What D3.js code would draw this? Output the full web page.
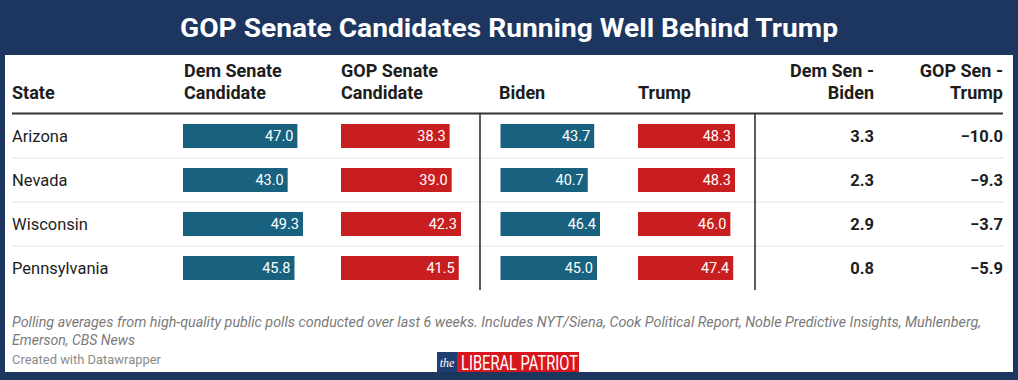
<!DOCTYPE html>
<html><head><meta charset="utf-8">
<script src="https://cdn.jsdelivr.net/npm/d3@7"></script>
<style>
html,body{margin:0;padding:0;background:#1c3660;}
svg{display:block;font-family:Roboto, "Noto Sans", sans-serif;}
</style></head>
<body>
<svg id="chart" width="1018" height="380"></svg>
<script>
const states = ["Arizona", "Nevada", "Wisconsin", "Pennsylvania"];
const demSenate = [47.0, 43.0, 49.3, 45.8];
const gopSenate = [38.3, 39.0, 42.3, 41.5];
const biden = [43.7, 40.7, 46.4, 45.0];
const trump = [48.3, 48.3, 46.0, 47.4];
const demMinusBiden = [3.3, 2.3, 2.9, 0.8];
const gopMinusTrump = [-10.0, -9.3, -3.7, -5.9];
const title = "GOP Senate Candidates Running Well Behind Trump";
const notes = ["Polling averages from high-quality public polls conducted over last 6 weeks. Includes NYT/Siena, Cook Political Report, Noble Predictive Insights, Muhlenberg,", "Emerson, CBS News"];
const credit = "Created with Datawrapper";

const svg = d3.select("#chart");
const navy = "#1c3660", blue = "#19627f", red = "#c81e1f";

svg.append("rect").attr("width",1018).attr("height",380).attr("fill",navy);
svg.append("rect").attr("x",5).attr("y",55).attr("width",1008).attr("height",317).attr("fill","#fff");

svg.append("text").attr("x",509).attr("y",37).attr("text-anchor","middle")
  .attr("fill","#fff").attr("font-size",26).attr("font-weight",700)
  .attr("textLength",658).attr("lengthAdjust","spacingAndGlyphs").text(title);

// headers
const headers = [
  {lines:["State"], x:12, anchor:"start"},
  {lines:["Dem Senate","Candidate"], x:184, anchor:"start"},
  {lines:["GOP Senate","Candidate"], x:341, anchor:"start"},
  {lines:["Biden"], x:499, anchor:"start"},
  {lines:["Trump"], x:638, anchor:"start"},
  {lines:["Dem Sen -","Biden"], x:874, anchor:"end"},
  {lines:["GOP Sen -","Trump"], x:1003, anchor:"end"}
];
headers.forEach(h=>{
  const n = h.lines.length;
  h.lines.forEach((l,i)=>{
    svg.append("text").attr("x",h.x).attr("y",99-(n-1-i)*22)
      .attr("text-anchor",h.anchor).attr("font-size",18).attr("font-weight",700)
      .attr("fill","#1d1d1d").text(l);
  });
});

// row scale
const y = d3.scaleBand().domain(states).range([114,290]).paddingInner(0).paddingOuter(0);
const rowC = s => y(s) + y.bandwidth()/2;

// separators
states.slice(0,-1).forEach(s=>{
  svg.append("line").attr("x1",12).attr("x2",1003)
    .attr("y1",y(s)+y.bandwidth()).attr("y2",y(s)+y.bandwidth())
    .attr("stroke","#e2e2e2").attr("stroke-width",1);
});
svg.append("line").attr("x1",12).attr("x2",1003).attr("y1",113.5).attr("y2",113.5)
  .attr("stroke","#333").attr("stroke-width",2);
[480,755].forEach(x=>{
  svg.append("line").attr("x1",x).attr("x2",x).attr("y1",113).attr("y2",290)
    .attr("stroke","#333").attr("stroke-width",1.6);
});

// state labels
svg.selectAll(".state").data(states).enter().append("text")
  .attr("x",12).attr("y",d=>rowC(d)+6).attr("font-size",16.5).attr("fill","#1d1d1d").text(d=>d);

// bar columns
const cols = [
  {vals:demSenate, x0:183, w:120, color:blue},
  {vals:gopSenate, x0:341, w:120, color:red},
  {vals:biden, x0:500.5, w:99.5, color:blue},
  {vals:trump, x0:638, w:97, color:red}
];
cols.forEach(c=>{
  const xs = d3.scaleLinear().domain([0, d3.max(c.vals)]).range([0, c.w]);
  const g = svg.append("g");
  g.selectAll("rect").data(c.vals).enter().append("rect")
    .attr("x",c.x0).attr("y",(d,i)=>rowC(states[i])-12)
    .attr("width",d=>xs(d)).attr("height",24).attr("fill",c.color);
  g.selectAll("text").data(c.vals).enter().append("text")
    .attr("x",d=>c.x0+xs(d)-4).attr("y",(d,i)=>rowC(states[i])+5)
    .attr("text-anchor","end").attr("font-size",14.5).attr("fill","#fff")
    .text(d=>d.toFixed(1));
});

// difference columns
const fmt = v => (v<0 ? "\u2212" : "") + Math.abs(v).toFixed(1);
[[demMinusBiden,874],[gopMinusTrump,1003]].forEach(([vals,x])=>{
  svg.append("g").selectAll("text").data(vals).enter().append("text")
    .attr("x",x).attr("y",(d,i)=>rowC(states[i])+6).attr("text-anchor","end")
    .attr("font-size",16.5).attr("font-weight",700).attr("fill","#1d1d1d").text(fmt);
});

// notes
svg.append("text").attr("x",12).attr("y",327).attr("font-size",14).attr("font-style","italic")
  .attr("fill","#7a7a7a").attr("textLength",969).attr("lengthAdjust","spacingAndGlyphs").text(notes[0]);
svg.append("text").attr("x",12).attr("y",345).attr("font-size",14).attr("font-style","italic")
  .attr("fill","#7a7a7a").attr("textLength",123).attr("lengthAdjust","spacingAndGlyphs").text(notes[1]);
svg.append("text").attr("x",12).attr("y",364).attr("font-size",13)
  .attr("fill","#8a8a8a").attr("textLength",149).attr("lengthAdjust","spacingAndGlyphs").text(credit);

// logo
svg.append("rect").attr("x",437).attr("y",352).attr("width",20).attr("height",20).attr("fill","#1f3f73");
svg.append("text").attr("x",447).attr("y",367).attr("text-anchor","middle").attr("font-size",12)
  .attr("font-style","italic").attr("font-family","'Liberation Serif', serif").attr("fill","#fff").text("the");
svg.append("rect").attr("x",457).attr("y",352).attr("width",122).attr("height",20).attr("fill","#d8161e");
svg.append("text").attr("x",461).attr("y",370).attr("font-size",20).attr("fill","#fff")
  .attr("textLength",117).attr("lengthAdjust","spacingAndGlyphs").text("LIBERAL PATRIOT");
</script>
</body></html>
